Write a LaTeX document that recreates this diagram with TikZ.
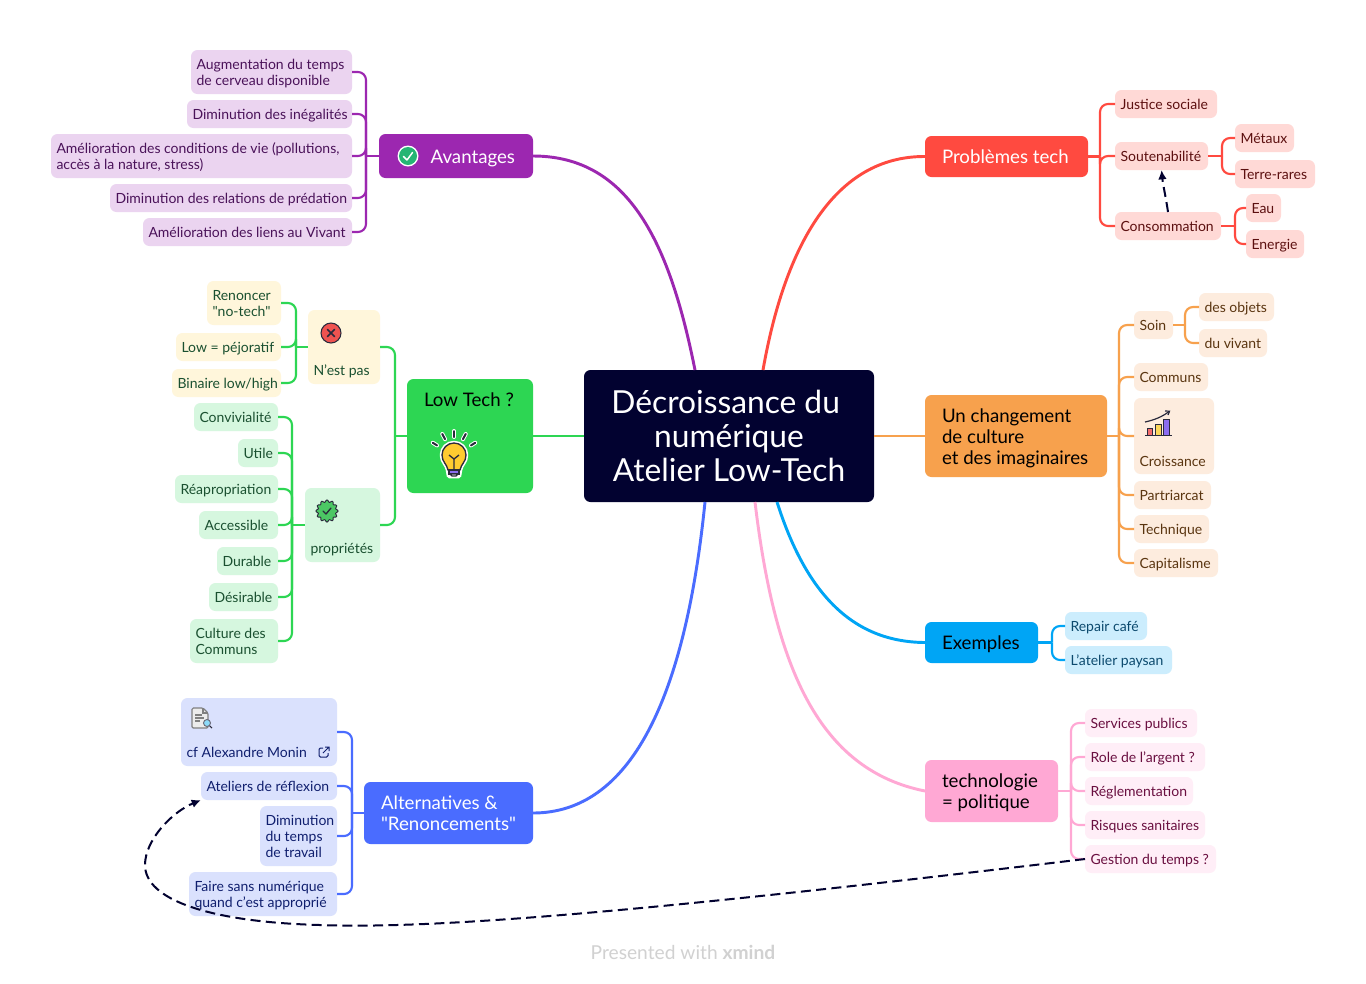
\documentclass[tikz,border=0pt]{standalone}
\usepackage{fontspec}
\setmainfont{Lato}[Ligatures=TeXOff]
\usetikzlibrary{calc,arrows.meta}
\definecolor{rootc}{HTML}{020230}
\definecolor{purC}{HTML}{9C27B0}\definecolor{purL}{HTML}{EBD4F0}\definecolor{purT}{HTML}{4A1259}
\definecolor{redC}{HTML}{FF4A40}\definecolor{redL}{HTML}{FFD9D6}\definecolor{redT}{HTML}{5C1010}
\definecolor{oraC}{HTML}{F7A14D}\definecolor{oraL}{HTML}{FDECDE}\definecolor{oraT}{HTML}{5A3510}
\definecolor{bluC}{HTML}{00A5F5}\definecolor{bluL}{HTML}{CCEDFD}\definecolor{bluT}{HTML}{0C4A6E}
\definecolor{pinC}{HTML}{FFA8D4}\definecolor{pinL}{HTML}{FFEEF7}\definecolor{pinT}{HTML}{6A0F40}
\definecolor{indC}{HTML}{4A6CFF}\definecolor{indL}{HTML}{DAE1FD}\definecolor{indT}{HTML}{101F6E}
\definecolor{greC}{HTML}{2DD653}\definecolor{greL}{HTML}{D6F7DF}\definecolor{greT}{HTML}{1A5030}
\definecolor{yelL}{HTML}{FFF6DB}
\definecolor{icoD}{HTML}{2A2A3C}
\definecolor{icoG}{HTML}{25B574}\definecolor{icoR}{HTML}{EF5350}\definecolor{icoB}{HTML}{4CC764}
\definecolor{icoY}{HTML}{FFCB30}\definecolor{icoP}{HTML}{8B6CF0}\definecolor{icoS}{HTML}{F46C6C}\definecolor{icoW}{HTML}{FBD75B}
\tikzset{
  x=0.75pt,y=-0.75pt,
  boxbase/.style={rounded corners=6.5*0.75pt,inner sep=0pt,outer sep=0pt},
  leaf/.style={boxbase,font=\fontsize{10.5}{12}\selectfont},
  topic/.style={boxbase,font=\fontsize{14}{15.75}\selectfont},
  conn/.style={line width=1.6pt},
  mainconn/.style={line width=2.2pt},
  brack/.style={conn,rounded corners=6pt},
  rel/.style={draw=rootc,line width=1.5pt,dash pattern=on 7.5pt off 4pt,-{Latex[length=7pt,width=6.5pt]}},
}
\newcommand{\bxx}[9]{%
  \pgfmathsetmacro\cxv{(#4+#6)/2}\pgfmathsetmacro\cyv{(#5+#7)/2}%
  \pgfmathsetmacro\wv{(#6-#4)*0.75}\pgfmathsetmacro\hv{(#7-#5)*0.75}%
  \pgfmathsetmacro\twv{(#6-#4-2*#1)*0.75}%
  \node[#3,minimum width=\wv pt,minimum height=\hv pt] (#2) at (\cxv,\cyv)
    {\makebox[\twv pt][l]{\smash{\raisebox{#8}{\begin{tabular}{@{}l@{}}#9\end{tabular}}}}};}
\newcommand{\lf}[7]{\bxx{5.5}{#1}{leaf,#2}{#3}{#4}{#5}{#6}{-4.1pt}{#7}}
\newcommand{\tp}[7]{\bxx{17}{#1}{topic,#2}{#3}{#4}{#5}{#6}{-5.75pt}{#7}}
\newcommand{\mv}[2]{\smash{\raisebox{#1}{#2}}}
% left bracket: colour, parent, trunk x, children
\newcommand{\lbr}[4]{\coordinate (#2trunk) at (#3,0);
  \foreach \c in {#4} \draw[brack,draw=#1] (\c.east) -| (#2trunk |- #2.west);
  \draw[conn,draw=#1] (#2trunk |- #2.west) -- (#2.west);}
\newcommand{\rbr}[4]{\coordinate (#2trunk) at (#3,0);
  \foreach \c in {#4} \draw[brack,draw=#1] (\c.west) -| (#2trunk |- #2.east);
  \draw[conn,draw=#1] (#2.east) -- (#2trunk |- #2.east);}
\begin{document}
\begin{tikzpicture}
\useasboundingbox (0,0) rectangle (1366,983);
\fill[white] (0,0) rectangle (1366,983);
% root
\node[boxbase,fill=rootc,text=white,align=center,minimum width=217.5pt,minimum height=99pt,
  font=\fontsize{23.8}{25.5}\selectfont] (root) at (729,436)
  {Décroissance du\hspace*{5pt}\\numérique\\Atelier Low-Tech};
% Avantages
\tp{av}{fill=purC,text=white}{379}{134}{533}{178}{\hspace*{26pt}Avantages}
\lf{avA}{fill=purL,text=purT}{191}{50}{352}{94}{Augmentation du temps\\de cerveau disponible}
\lf{avB}{fill=purL,text=purT}{187}{100}{352}{128}{Diminution des inégalités}
\lf{avC}{fill=purL,text=purT}{51}{134}{352}{178}{Amélioration des conditions de vie (pollutions,\\accès à la nature, stress)}
\lf{avD}{fill=purL,text=purT}{110}{184}{352}{212}{Diminution des relations de prédation}
\lf{avE}{fill=purL,text=purT}{143}{218}{352}{246}{Amélioration des liens au Vivant}
% Low tech
\tp{lt}{fill=greC,text=black}{407}{379}{533}{493}{\mv{27.75pt}{Low Tech ?}}
\lf{np}{fill=yelL,text=greT}{308}{310}{380}{384}{\mv{-17.85pt}{N’est pas}}
\lf{npA}{fill=yelL,text=greT}{207}{281}{281}{325}{Renoncer\\"no-tech"}
\lf{npB}{fill=yelL,text=greT}{176}{333}{281}{361}{Low = péjoratif}
\lf{npC}{fill=yelL,text=greT}{172}{369}{281}{397}{Binaire low/high}
\lf{pr}{fill=greL,text=greT}{305}{488}{380}{562}{\mv{-17.85pt}{propriétés}}
\lf{prA}{fill=greL,text=greT}{194}{403}{278}{431}{Convivialité}
\lf{prB}{fill=greL,text=greT}{238}{439}{278}{467}{Utile}
\lf{prC}{fill=greL,text=greT}{175}{475}{278}{503}{Réapropriation}
\lf{prD}{fill=greL,text=greT}{199}{511}{278}{539}{Accessible}
\lf{prE}{fill=greL,text=greT}{217}{547}{278}{575}{Durable}
\lf{prF}{fill=greL,text=greT}{209}{583}{278}{611}{Désirable}
\lf{prG}{fill=greL,text=greT}{190}{619}{278}{663}{Culture des\\Communs}
% Alternatives
\tp{al}{fill=indC,text=white}{364}{782}{533}{844}{Alternatives \&\\"Renoncements"}
\lf{alA}{fill=indL,text=indT}{181}{698}{337}{766}{\mv{-15.6pt}{cf Alexandre Monin}}
\lf{alB}{fill=indL,text=indT}{201}{772}{337}{800}{Ateliers de réflexion}
\lf{alC}{fill=indL,text=indT}{260}{806}{337}{866}{Diminution\\du temps\\de travail}
\lf{alD}{fill=indL,text=indT}{189}{872}{337}{916}{Faire sans numérique\\quand c’est approprié}
% Problemes
\tp{pb}{fill=redC,text=white}{925}{136}{1088}{177}{Problèmes tech}
\lf{pbA}{fill=redL,text=redT}{1115}{90}{1217}{118}{Justice sociale}
\lf{pbB}{fill=redL,text=redT}{1115}{142}{1208}{170}{Soutenabilité}
\lf{pbC}{fill=redL,text=redT}{1115}{212}{1221}{240}{Consommation}
\lf{pbD}{fill=redL,text=redT}{1235}{124}{1294}{152}{Métaux}
\lf{pbE}{fill=redL,text=redT}{1235}{160}{1315}{188}{Terre-rares}
\lf{pbF}{fill=redL,text=redT}{1246}{194}{1281}{222}{Eau}
\lf{pbG}{fill=redL,text=redT}{1246}{230}{1304}{258}{Energie}
% Changement
\tp{ch}{fill=oraC,text=black}{925}{395}{1107}{477}{Un changement\\de culture\\et des imaginaires}
\lf{chA}{fill=oraL,text=oraT}{1134}{311}{1173}{339}{Soin}
\lf{chB}{fill=oraL,text=oraT}{1199}{293}{1274}{321}{des objets}
\lf{chC}{fill=oraL,text=oraT}{1199}{329}{1267}{357}{du vivant}
\lf{chD}{fill=oraL,text=oraT}{1134}{363}{1208}{391}{Communs}
\lf{chE}{fill=oraL,text=oraT}{1134}{398}{1214}{474}{\mv{-19.2pt}{Croissance}}
\lf{chF}{fill=oraL,text=oraT}{1134}{481}{1211}{509}{Partriarcat}
\lf{chG}{fill=oraL,text=oraT}{1134}{515}{1209}{543}{Technique}
\lf{chH}{fill=oraL,text=oraT}{1134}{549}{1218}{577}{Capitalisme}
% Exemples
\tp{ex}{fill=bluC,text=black}{925}{622}{1038}{663}{Exemples}
\lf{exA}{fill=bluL,text=bluT}{1065}{612}{1147}{640}{Repair café}
\lf{exB}{fill=bluL,text=bluT}{1065}{646}{1172}{674}{L’atelier paysan}
% Politique
\tp{po}{fill=pinC,text=black}{925}{760}{1058}{822}{technologie\\= politique}
\lf{poA}{fill=pinL,text=pinT}{1085}{709}{1197}{737}{Services publics}
\lf{poB}{fill=pinL,text=pinT}{1085}{743}{1205}{771}{Role de l’argent ?}
\lf{poC}{fill=pinL,text=pinT}{1085}{777}{1193}{805}{Réglementation}
\lf{poD}{fill=pinL,text=pinT}{1085}{811}{1205}{839}{Risques sanitaires}
\lf{poE}{fill=pinL,text=pinT}{1085}{845}{1216}{873}{Gestion du temps ?}
% main branches
\draw[mainconn,draw=purC] (av.east) .. controls (630,156) and (670,245) .. ($(root.north)+(-34,0)$);
\draw[mainconn,draw=redC] (pb.west) .. controls (835,156) and (785,245) .. ($(root.north)+(34,0)$);
\draw[mainconn,draw=greC] (lt.east) -- (root.west);
\draw[mainconn,draw=oraC] (root.east) -- (ch.west);
\draw[mainconn,draw=indC] (al.east) .. controls (630,813) and (685,700) .. ($(root.south)+(-24,0)$);
\draw[mainconn,draw=bluC] ($(root.south)+(48,0)$) .. controls (805,590) and (850,642) .. (ex.west);
\draw[mainconn,draw=pinC] ($(root.south)+(26,0)$) .. controls (775,670) and (820,770) .. (po.west);
% brackets
\lbr{purC}{av}{366}{avA,avB,avC,avD,avE}
\lbr{greC}{np}{296}{npA,npB,npC}
\lbr{greC}{pr}{292}{prA,prB,prC,prD,prE,prF,prG}
\lbr{greC}{lt}{395}{np,pr}
\lbr{indC}{al}{352}{alA,alB,alC,alD}
\rbr{redC}{pb}{1100}{pbA,pbB,pbC}
\rbr{redC}{pbB}{1222}{pbD,pbE}
\rbr{redC}{pbC}{1235}{pbF,pbG}
\rbr{oraC}{ch}{1119}{chA,chD,chE,chF,chG,chH}
\rbr{oraC}{chA}{1185}{chB,chC}
\rbr{bluC}{ex}{1052}{exA,exB}
\rbr{pinC}{po}{1071}{poA,poB,poC,poD,poE}
% icons
% check circle
\fill[white] (408,156) circle (10.5);
\fill[icoG] (408,156) circle (9);
\draw[white,line width=1.1pt,line cap=round,line join=round] (403.5,156.5) -- (407,160) -- (412.5,152.5);
% cross circle
\draw[icoD,fill=icoR,line width=0.8pt] (331,333) circle (10);
\draw[icoD,line width=1.1pt,line cap=round] (327.5,329.5) -- (334.5,336.5) (334.5,329.5) -- (327.5,336.5);
% badge
\begin{scope}[shift={(327,511)}]
\draw[icoD,fill=icoB,line width=0.7pt] plot[domain=0:360,samples=73,smooth] (\x:{10+1.1*cos(12*\x)}) -- cycle;
\draw[icoD,line width=1pt,line cap=round,line join=round] (-4,0) -- (-1,3) -- (4,-3);
\end{scope}
% bulb
\begin{scope}[shift={(454,456)}]
\foreach \a/\rA/\rB in {-90/19/25,-118/19/25,-62/19/25,-148/20/25,-32/20/25}
  \draw[white,line width=3pt,line cap=round] (\a:\rA) -- (\a:\rB);
\foreach \a/\rA/\rB in {-90/19/25,-118/19/25,-62/19/25,-148/20/25,-32/20/25}
  \draw[icoD,line width=1.5pt,line cap=round] (\a:\rA) -- (\a:\rB);
\draw[white,line width=3.4pt,fill=white,line join=round] (-12,-1) arc[start angle=180,end angle=360,radius=12] .. controls (12,6) and (7,8) .. (6,14) -- (5,20) -- (-5,20) -- (-6,14) .. controls (-7,8) and (-12,6) .. (-12,-1) -- cycle;
\draw[icoD,line width=1pt,fill=icoY] (-12,-1) arc[start angle=180,end angle=360,radius=12] .. controls (12,6) and (7,8) .. (6,14) -- (-6,14) .. controls (-7,8) and (-12,6) .. (-12,-1) -- cycle;
\draw[icoD,line width=1pt] (0,14) -- (0,3) (-5,-1) -- (0,3) -- (5,-1);
\draw[icoD,line width=1pt,fill=icoP] (-5,14) -- (5,14) -- (5,18) -- (-5,18) -- cycle;
\draw[icoD,line width=1pt,fill=white] (-4,18) -- (4,18) -- (2,20) -- (-2,20) -- cycle;
\end{scope}
% document
\begin{scope}[shift={(192,708)}]
\draw[gray,fill=gray!15,line width=0.9pt,rounded corners=1pt] (0,0) -- (11,0) -- (16,5) -- (16,20) -- (0,20) -- cycle;
\draw[gray,line width=0.9pt] (11,0) -- (11,5) -- (16,5);
\draw[gray,line width=1pt] (3,7) -- (10,7) (3,10) -- (12,10) (3,13) -- (8,13);
\draw[icoD,line width=0.8pt] (17.5,17.5) -- (20,20);
\draw[icoD!70,fill=cyan!45,line width=0.7pt] (15,15) circle (3.5);
\end{scope}
% external link
\begin{scope}[shift={(324,752)}]
\draw[indT,line width=0.75pt,rounded corners=1pt] (-1,-4) -- (-5,-4) -- (-5,5) -- (4,5) -- (4,1);
\draw[indT,line width=0.75pt] (-1,1) -- (5,-5) (1,-5) -- (5,-5) -- (5,-1);
\end{scope}
% chart
\begin{scope}[shift={(1145,411)}]
\draw[icoD,fill=icoS,line width=0.6pt] (2,24) rectangle (7,17);
\draw[icoD,fill=icoW,line width=0.6pt] (10,24) rectangle (16,13);
\draw[icoD,fill=icoP,line width=0.6pt] (18,24) rectangle (24,8);
\draw[icoD,line width=1pt] (0,24.5) -- (27,24.5);
\draw[icoD,line width=0.9pt] (0,11) .. controls (9,9) and (17,6) .. (24,0.5);
\draw[icoD,line width=0.9pt] (20,0) -- (24.5,0.2) -- (23,4);
\end{scope}
% relations
\draw[rel] (pbC.north) .. controls (1166,198) and (1163,185) .. (pbB.south);
\draw[rel] (poE.west) .. controls (700,905) and (450,930) .. (320,925)
  .. controls (210,922) and (145,900) .. (145,865)
  .. controls (145,840) and (172,812) .. (alB.south west);
% footer
\node[inner sep=0pt,text=black!18,font=\fontsize{14.4}{15}\selectfont] (footer) at (683,952) {Presented with \textbf{xmind}};
\end{tikzpicture}
\end{document}
